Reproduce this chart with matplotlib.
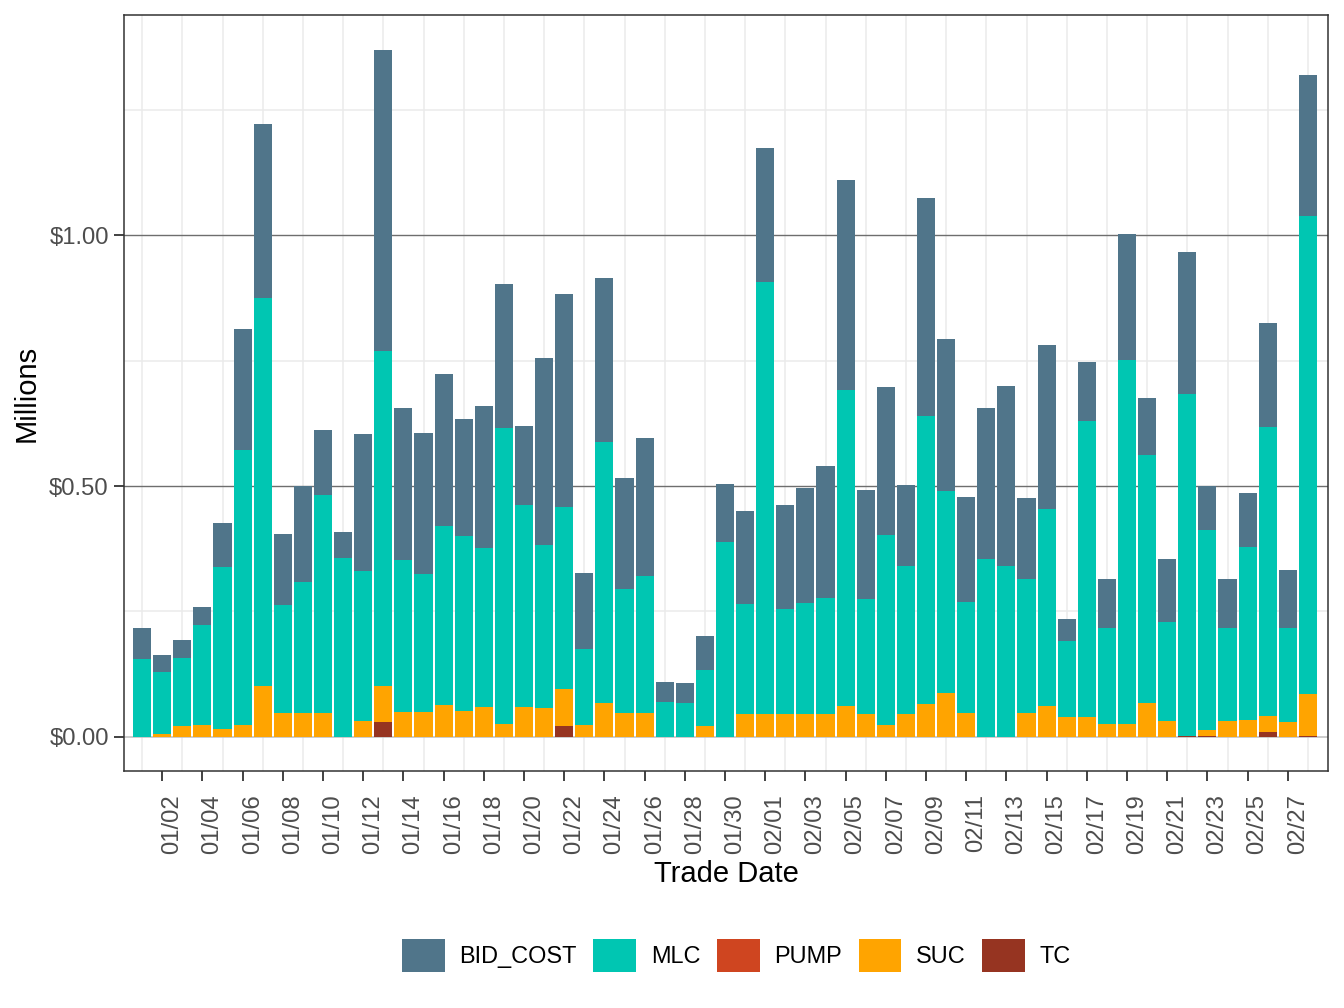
import numpy as np
import pandas as pd
import matplotlib
matplotlib.use('Agg')
import matplotlib.pyplot as plt
import matplotlib.transforms as mtransforms
from matplotlib.patches import Patch

plt.rcParams['font.family'] = ['Liberation Sans', 'DejaVu Sans']

# trade dates (Jan 1 - Feb 28)
dates = pd.date_range('2023-01-01', '2023-02-28')
day_labels = [d.strftime('%m/%d') for d in dates]

# values in millions
bid_cost = [0.062, 0.034, 0.034, 0.036, 0.088, 0.242, 0.346, 0.143, 0.193, 0.128,
            0.051, 0.274, 0.601, 0.304, 0.282, 0.304, 0.233, 0.284, 0.287, 0.157,
            0.373, 0.424, 0.151, 0.328, 0.223, 0.274, 0.040, 0.040, 0.068, 0.116,
            0.186, 0.267, 0.209, 0.231, 0.264, 0.418, 0.219, 0.295, 0.163, 0.434,
            0.302, 0.211, 0.301, 0.360, 0.162, 0.327, 0.044, 0.118, 0.098, 0.251,
            0.114, 0.125, 0.283, 0.087, 0.098, 0.108, 0.207, 0.115, 0.283]
mlc = [0.155, 0.123, 0.137, 0.199, 0.322, 0.549, 0.775, 0.215, 0.261, 0.436,
       0.357, 0.299, 0.668, 0.303, 0.275, 0.357, 0.349, 0.317, 0.591, 0.403,
       0.326, 0.364, 0.153, 0.520, 0.246, 0.273, 0.069, 0.067, 0.112, 0.389,
       0.219, 0.862, 0.209, 0.221, 0.231, 0.630, 0.229, 0.380, 0.295, 0.574,
       0.403, 0.221, 0.354, 0.340, 0.268, 0.393, 0.150, 0.590, 0.192, 0.727,
       0.495, 0.198, 0.682, 0.400, 0.186, 0.346, 0.577, 0.188, 0.952]
pump = [0.0] * 59
suc = [0.000, 0.006, 0.021, 0.023, 0.016, 0.023, 0.101, 0.047, 0.047, 0.047,
       0.000, 0.031, 0.073, 0.049, 0.049, 0.063, 0.051, 0.059, 0.025, 0.059,
       0.057, 0.074, 0.023, 0.067, 0.048, 0.048, 0.000, 0.000, 0.021, 0.000,
       0.045, 0.045, 0.045, 0.045, 0.045, 0.062, 0.045, 0.023, 0.045, 0.066,
       0.088, 0.047, 0.000, 0.000, 0.047, 0.062, 0.040, 0.040, 0.025, 0.025,
       0.067, 0.031, 0.000, 0.011, 0.031, 0.033, 0.032, 0.029, 0.084]
tc = [0.0] * 59
tc[12] = 0.029
tc[21] = 0.021
tc[52] = 0.002
tc[53] = 0.002
tc[56] = 0.009
tc[58] = 0.002

series = ['BID_COST', 'MLC', 'PUMP', 'SUC', 'TC']
colors = {'BID_COST': '#50758A', 'MLC': '#00C6B2', 'PUMP': '#CF4520',
          'SUC': '#FFA400', 'TC': '#963421'}
vals = {'BID_COST': bid_cost, 'MLC': mlc, 'PUMP': pump, 'SUC': suc, 'TC': tc}

x = np.arange(1, len(dates) + 1)

fig = plt.figure(figsize=(13.44, 10.08), dpi=100)
ax = fig.add_axes([0.0923, 0.235, 0.8958, 0.750])

# grid
for v in x[::2]:
    ax.axvline(v, color='#EBEBEB', lw=1.1, zorder=0)
for v in [0.25, 0.75, 1.25]:
    ax.axhline(v, color='#EBEBEB', lw=1.1, zorder=0)
ax.axhline(0, color='#BEBEBE', lw=1.1, zorder=0)
for v in [0.5, 1.0]:
    ax.axhline(v, color='#6E6E6E', lw=1.0, zorder=0)

bottom = np.zeros(len(x))
for s in ['TC', 'SUC', 'PUMP', 'MLC', 'BID_COST']:
    h = np.array(vals[s])
    ax.bar(x, h, bottom=bottom, width=0.9, color=colors[s], linewidth=0, zorder=2)
    bottom += h

ax.set_xlim(0.1, 60.0)
ax.set_ylim(-0.0686, 1.4396)
ax.set_yticks([0, 0.5, 1.0])
ax.set_yticklabels(['$0.00', '$0.50', '$1.00'])
ax.set_xticks(x[1::2])
ax.set_xticklabels(day_labels[1::2], rotation=90)
ax.tick_params(axis='both', colors='#333333', labelcolor='#4D4D4D',
               labelsize=17.2, length=7, width=1.3, pad=4)
ax.tick_params(axis='x', pad=9.5)
# ggplot puts the rotated labels a bit right of the tick
shift = mtransforms.ScaledTranslation(0.10, 0, fig.dpi_scale_trans)
for lab in ax.get_xticklabels():
    lab.set_transform(lab.get_transform() + shift)
for sp in ax.spines.values():
    sp.set_color('#333333')
    sp.set_linewidth(1.1)

ax.set_xlabel('Trade Date', fontsize=21, labelpad=4)
ax.set_ylabel('Millions', fontsize=21, labelpad=6)

handles = [Patch(facecolor=colors[s], edgecolor='none') for s in series]
fig.legend(handles, series, loc='center', bbox_to_anchor=(0.548, 0.052), ncol=5,
           frameon=False, fontsize=16.9, handlelength=1.83, handleheight=1.8,
           handletextpad=0.62, columnspacing=0.7)

fig.savefig('out.png', dpi=100)
